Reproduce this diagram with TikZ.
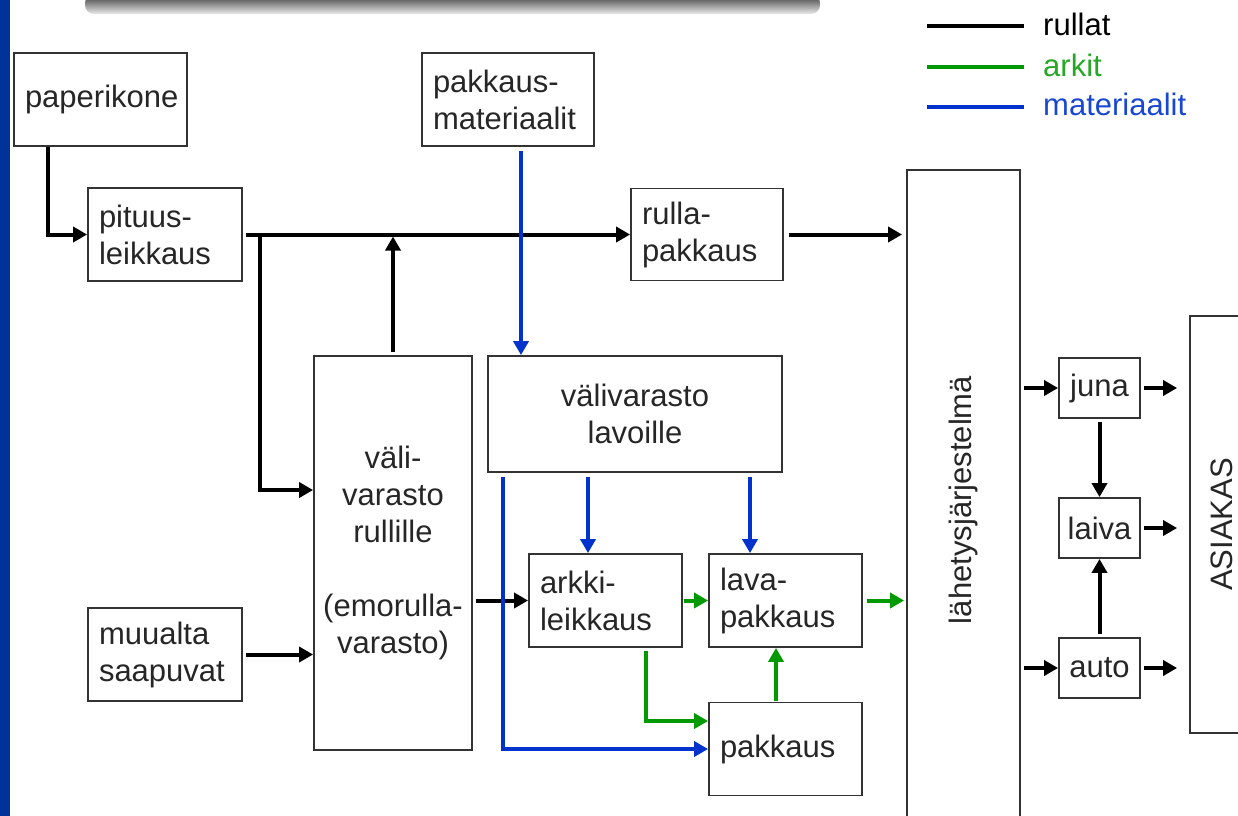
\documentclass[tikz,border=0pt]{standalone}
\usepackage{fontspec}
\setmainfont{Liberation Sans}
\usetikzlibrary{arrows.meta}
\definecolor{vihrea}{RGB}{0,153,0}
\definecolor{sininen}{RGB}{0,51,204}
\definecolor{palkki}{RGB}{0,51,153}
\tikzset{
  lohko/.style={draw=black!80,line width=1.8pt,inner xsep=11pt,inner ysep=0pt,
    align=left,font=\fontsize{31}{37}\selectfont,text=black!85},
  rulla/.style={line width=4pt,-{Triangle[length=14pt,width=15pt]}},
  arkit/.style={rulla,draw=vihrea},
  materiaalit/.style={rulla,draw=sininen},
  selite/.style={anchor=west,inner sep=0pt,font=\fontsize{31}{37}\selectfont}
}
\newcommand{\lohko}[6][]{\pgfmathsetmacro{\lev}{#4-22}\node[lohko,minimum width=#4pt,minimum height=#5pt,text width=\lev pt,#1] at (#2) (#3) {#6}}

\begin{document}
\begin{tikzpicture}[x=1pt,y=-1pt]
  \useasboundingbox (0,0) rectangle (1238,815);
  \clip (0,0) rectangle (1238,815);

  \fill[palkki] (0,-5) rectangle (10,820);
  \shade[top color=black!80,bottom color=black!8,rounded corners=9pt] (85,-6) rectangle (820,14);

  \lohko{100.5,99.5}{pap}{173}{93}{paperikone};
  \lohko{165,234.5}{pit}{154}{93}{pituus-\\leikkaus};
  \lohko{508,99.5}{pmat}{172}{93}{pakkaus-\\materiaalit};
  \lohko{707,234.5}{rpak}{152}{92}{rulla-\\pakkaus};
  \lohko[align=center,inner xsep=3pt,text width=152pt]{393,553}{vrul}{158}{394}{väli-\\varasto\\rullille\\~\\(emorulla-\\varasto)};
  \lohko[align=center]{635,414}{vlav}{294}{116}{välivarasto\\lavoille};
  \lohko{605.5,600.5}{akl}{153}{93}{arkki-\\leikkaus};
  \lohko{785.5,600.5}{lpak}{153}{93}{lava-\\pakkaus};
  \lohko{785.5,749}{pak}{153}{93}{pakkaus};
  \lohko{165,654.5}{muu}{154}{93}{muualta\\saapuvat};
  \node[lohko,rotate=90,minimum width=660pt,minimum height=113pt] at (963.5,500) (lah) {lähetysjärjestelmä};
  \node[lohko,minimum width=81pt,minimum height=60pt,inner xsep=0pt] at (1099.5,388) (juna) {juna};
  \node[lohko,minimum width=81pt,minimum height=60pt,inner xsep=0pt] at (1099.5,528) (laiva) {laiva};
  \node[lohko,minimum width=81pt,minimum height=60pt,inner xsep=0pt] at (1099.5,668) (auto) {auto};
  \node[lohko,rotate=90,minimum width=417pt,minimum height=64pt] at (1222,524.5) (asi) {ASIAKAS};

  % selitteet
  \node[selite] at (1043,24) (srullat) {rullat};
  \node[selite,text=vihrea!85!white] at (1043,65) (sarkit) {arkit};
  \node[selite,text=sininen!90!white] at (1043,104) (smat) {materiaalit};
  \coordinate (l1) at (927,26);
  \coordinate (l2) at (927,67);
  \coordinate (l3) at (927,107);
  \draw[line width=4pt] (l1) -- (l1 -| 1024,0);
  \draw[line width=4pt,vihrea] (l2) -- (l2 -| 1024,0);
  \draw[line width=4pt,sininen] (l3) -- (l3 -| 1024,0);

  % rullat
  \coordinate (haara) at (260,234.5);
  \draw[rulla] ([xshift=-52.5pt]pap.south) |- (pit.west);
  \draw[rulla,shorten <=3pt] (pit.east) -- (rpak.west);
  \draw[rulla] (haara) |- ([yshift=63pt]vrul.west);
  \draw[rulla,shorten <=3pt,shorten >=2pt] (vrul.north) -- (vrul.north |- pit.east);
  \draw[rulla,shorten <=5pt,shorten >=4pt] (rpak.east) -- (rpak.east -| lah.north);
  \draw[rulla,shorten <=3pt] (muu.east) -- (vrul.west |- muu.east);
  \draw[rulla,shorten <=3pt] (vrul.east |- akl.west) -- (akl.west);
  \draw[rulla,shorten <=3pt] (juna.west -| lah.south) -- (juna.west);
  \draw[rulla,shorten <=3pt] (auto.west -| lah.south) -- (auto.west);
  \draw[rulla,shorten <=3pt,shorten >=12pt] (juna.east) -- (juna.east -| asi.north);
  \draw[rulla,shorten <=3pt,shorten >=12pt] (laiva.east) -- (laiva.east -| asi.north);
  \draw[rulla,shorten <=3pt,shorten >=12pt] (auto.east) -- (auto.east -| asi.north);
  \draw[rulla,shorten <=3pt] (juna.south) -- (laiva.north);
  \draw[rulla,shorten <=3pt] (auto.north) -- (laiva.south);

  % arkit
  \draw[arkit,shorten <=1pt] (akl.east) -- (lpak.west);
  \draw[arkit,shorten <=3pt] (akl.south -| 646,0) |- ([yshift=28pt]pak.west);
  \draw[arkit,shorten <=1pt] (pak.north -| 776,0) -- (lpak.south -| 776,0);
  \draw[arkit,shorten <=4pt,shorten >=2pt] (lpak.east) -- (lpak.east -| lah.north);

  % materiaalit
  \draw[materiaalit,shorten <=4pt] (pmat.south -| 521,0) -- (vlav.north -| 521,0);
  \draw[materiaalit,shorten <=4pt] (vlav.south -| 588,0) -- (akl.north -| 588,0);
  \draw[materiaalit,shorten <=4pt] (vlav.south -| 750,0) -- (lpak.north -| 750,0);
  \draw[materiaalit,shorten <=4pt] (vlav.south -| 503,0) |- (pak.west);
\end{tikzpicture}
\end{document}
